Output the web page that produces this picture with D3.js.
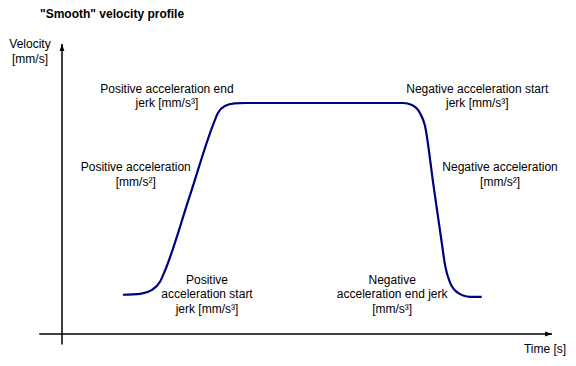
<!DOCTYPE html>
<html><head><meta charset="utf-8">
<script src="https://cdn.jsdelivr.net/npm/d3@7"></script>
<style>
html,body{margin:0;padding:0;background:#fff;}
svg{display:block;font-family:"Liberation Sans",Arial,sans-serif;}
</style></head>
<body>
<svg id="chart" width="576" height="366"></svg>
<script>
// Data (time in arbitrary s, velocity in arbitrary mm/s)
const timeValues = [1.23,1.58,1.82,1.98,2.08,2.57,3.05,3.15,3.29,3.49,3.70,6.89,7.07,7.23,7.33,7.505,7.68,7.74,7.84,8.00,8.24,8.48];
const velocityValues = [17.0,17.4,19.1,22.6,27.4,59.0,90.4,95.7,98.7,99.8,100,100,99.1,95.7,90.4,64.3,38.3,29.6,22.2,17.8,16.1,16.1];
const titleText = "\"Smooth\" velocity profile";
const yAxisLabel = ["Velocity","[mm/s]"];
const xAxisLabel = ["Time [s]"];
const annotationTexts = [
  ["Positive acceleration end","jerk [mm/s³]"],
  ["Positive acceleration","[mm/s²]"],
  ["Positive","acceleration start","jerk [mm/s³]"],
  ["Negative acceleration start","jerk [mm/s³]"],
  ["Negative acceleration","[mm/s²]"],
  ["Negative","acceleration end jerk","[mm/s³]"]
];
const annotationTimes = [2.12, 1.49, 2.93, 8.39, 8.85, 6.67];
const annotationVel = [104.5, 70.4, 21.7, 104.5, 70.4, 21.7];

const svg = d3.select("#chart");
const x = d3.scaleLinear().domain([0,10]).range([62,557]);
const y = d3.scaleLinear().domain([0,100]).range([334,103]);

// arrow marker
const defs = svg.append("defs");
defs.append("marker").attr("id","arr").attr("viewBox","0 0 10 10")
  .attr("refX",10).attr("refY",5).attr("markerWidth",7).attr("markerHeight",7)
  .attr("markerUnits","userSpaceOnUse").attr("orient","auto")
  .append("path").attr("d","M0,1.5 L10,5 L0,8.5 Z").attr("fill","#000");

// axes
svg.append("line").attr("x1",x(-0.46)).attr("y1",y(0)).attr("x2",x(9.9)).attr("y2",y(0))
  .attr("stroke","#000").attr("stroke-width",1.5).attr("marker-end","url(#arr)");
svg.append("line").attr("x1",x(0)).attr("y1",y(-4.5)).attr("x2",x(0)).attr("y2",y(125.5))
  .attr("stroke","#000").attr("stroke-width",1.5).attr("marker-end","url(#arr)");

// curve
const line = d3.line().x((d,i)=>x(timeValues[i])).y((d,i)=>y(velocityValues[i])).curve(d3.curveMonotoneX);
svg.append("path").datum(timeValues).attr("d",line)
  .attr("fill","none").attr("stroke","#000080").attr("stroke-width",2.2);

// title
svg.append("text").attr("x",40).attr("y",18).attr("font-size",12).attr("font-weight","bold")
  .attr("fill","#000").text(titleText);

function multi(lines, cx, by){
  const t = svg.append("text").attr("text-anchor","middle").attr("font-size",12).attr("fill","#000");
  lines.forEach((s,i)=>t.append("tspan").attr("x",cx).attr("y",by+i*14.5).text(s));
}
multi(yAxisLabel, 30, 48);
multi(xAxisLabel, 545, 353);
annotationTexts.forEach((lines,i)=>multi(lines, x(annotationTimes[i]), y(annotationVel[i])));
</script>
</body></html>
